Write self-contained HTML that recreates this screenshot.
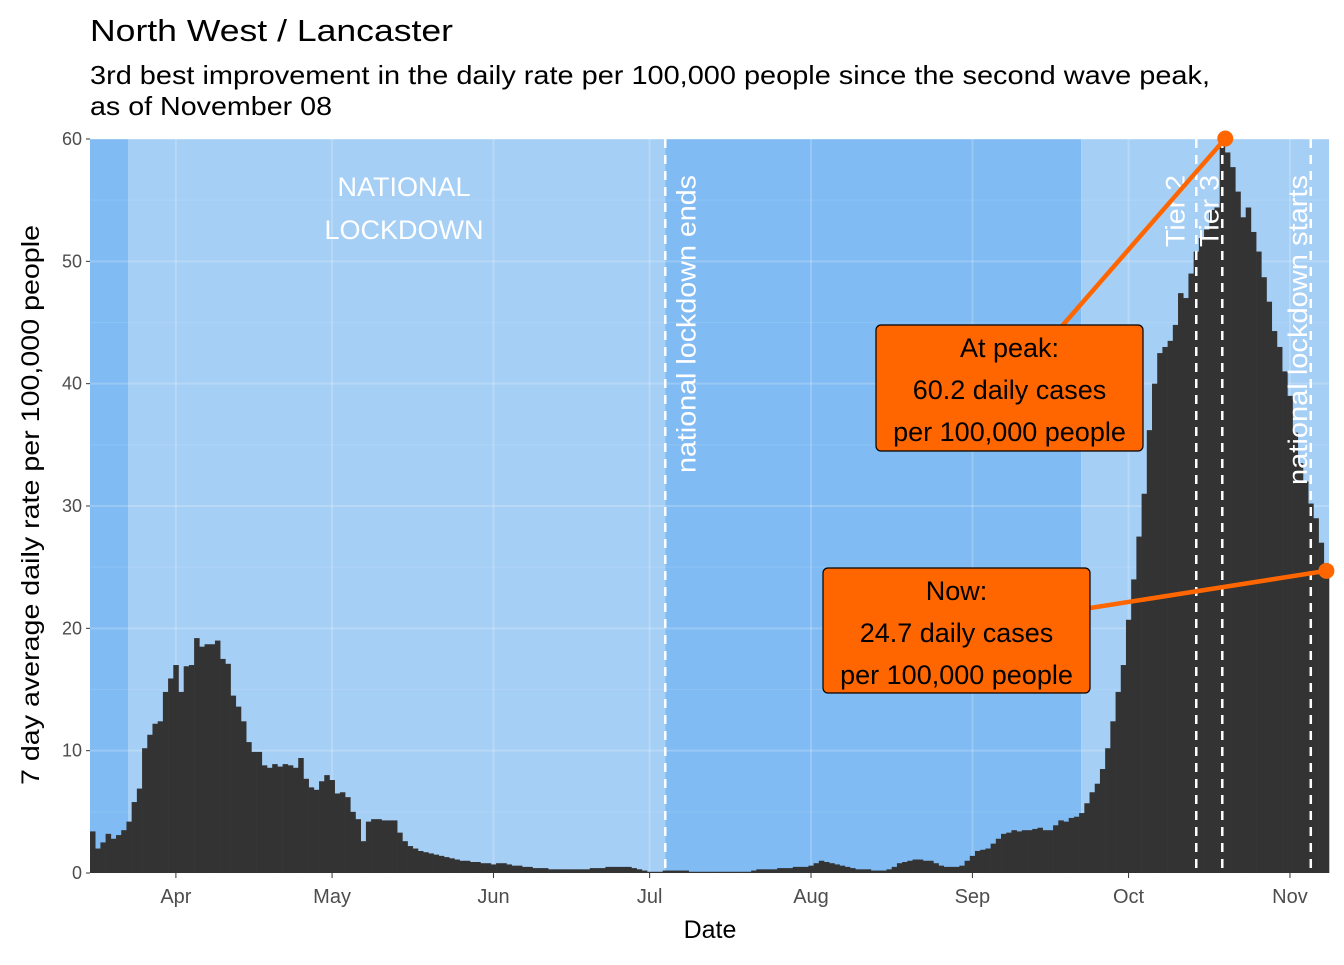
<!DOCTYPE html>
<html><head><meta charset="utf-8"><style>
body{margin:0;background:#fff;font-family:"Liberation Sans",sans-serif}
</style></head><body>
<svg id="chart" width="1344" height="960" xmlns="http://www.w3.org/2000/svg" font-family="Liberation Sans, sans-serif">
<text x="90" y="41" font-size="31" textLength="363" lengthAdjust="spacingAndGlyphs">North West / Lancaster</text>
<text x="90" y="84" font-size="26" textLength="1120" lengthAdjust="spacingAndGlyphs">3rd best improvement in the daily rate per 100,000 people since the second wave peak,</text>
<text x="90" y="115" font-size="26" textLength="242" lengthAdjust="spacingAndGlyphs">as of November 08</text>
<g id="plot"></g>
<text transform="translate(39,505) rotate(-90)" text-anchor="middle" font-size="25" textLength="560" lengthAdjust="spacingAndGlyphs">7 day average daily rate per 100,000 people</text>
<text x="710" y="938" text-anchor="middle" font-size="25">Date</text>
</svg>
<script>
const yTicks=[0,10,20,30,40,50,60];
const monthLabels=["Apr","May","Jun","Jul","Aug","Sep","Oct","Nov"];
const monthIdx=[16,46,77,107,138,169,199,230];
const values=[3.4,2.0,2.5,3.2,2.8,3.1,3.5,4.2,5.8,6.9,10.2,11.3,12.2,12.4,14.8,15.9,
17.0,14.8,16.9,17.0,19.2,18.5,18.7,18.7,19.0,17.5,17.1,14.5,13.6,12.4,10.7,9.9,9.9,8.8,8.6,8.9,8.7,8.9,8.8,8.6,9.4,7.7,7.0,6.8,7.5,8.0,
7.6,6.5,6.6,6.2,5.0,4.4,2.6,4.2,4.4,4.4,4.3,4.3,4.3,3.3,2.6,2.2,2.0,1.8,1.7,1.6,1.5,1.4,1.3,1.2,1.1,1.0,1.0,0.9,0.9,0.8,0.8,
0.7,0.8,0.8,0.7,0.6,0.6,0.5,0.5,0.4,0.4,0.4,0.3,0.3,0.3,0.3,0.3,0.3,0.3,0.3,0.4,0.4,0.4,0.5,0.5,0.5,0.5,0.5,0.4,0.3,0.2,
0.1,0.1,0.1,0.2,0.2,0.2,0.2,0.2,0.1,0.1,0.1,0.1,0.1,0.1,0.1,0.1,0.1,0.1,0.1,0.1,0.2,0.3,0.3,0.3,0.3,0.4,0.4,0.4,0.5,0.5,0.5,
0.6,0.8,1.0,0.9,0.8,0.7,0.6,0.5,0.4,0.3,0.3,0.3,0.2,0.2,0.2,0.3,0.5,0.8,0.9,1.0,1.1,1.1,1.0,1.0,0.8,0.6,0.5,0.5,0.5,0.6,1.0,
1.4,1.8,1.9,2.0,2.4,2.8,3.2,3.3,3.5,3.4,3.5,3.5,3.6,3.7,3.5,3.5,3.9,4.3,4.2,4.5,4.6,4.9,5.7,6.6,7.3,8.5,10.2,12.4,14.8,17.0,
20.7,24.0,27.5,31.0,36.2,40.0,42.5,43.0,43.5,44.8,47.4,47.0,49.0,50.8,51.9,52.6,54.2,54.4,60.2,58.9,57.7,55.7,53.6,54.4,52.4,50.8,48.7,46.7,44.3,43.0,41.0,
39.0,36.0,33.5,32.0,30.2,29.0,27.0,24.7];
const bands=[[0,7.3,"#80bbf3"],[7.3,110.5,"#a6cff6"],[110.5,190.4,"#80bbf3"],[190.4,238,"#a6cff6"]];
const events=[{i:110,label:"national lockdown ends",dx:30,len:298},{i:212,label:"Tier 2",dx:-12,len:72},{i:217,label:"Tier 3",dx:-4,len:72},{i:234,label:"national lockdown starts",dx:-4,len:310}];
const peakIdx=217, peakVal=60.2, nowIdx=237, nowVal=24.7;

const X0=90,X1=1329,Y0=873,Y60=139,N=values.length,bw=(X1-X0)/N;
const xs=i=>X0+i*bw, xc=i=>X0+(i+0.5)*bw, y=v=>Y0-(Y0-Y60)*v/60;
const NS="http://www.w3.org/2000/svg",g=document.getElementById('plot');
function mk(t,a,p){const e=document.createElementNS(NS,t);for(const k in a)e.setAttribute(k,a[k]);(p||g).appendChild(e);return e;}
bands.forEach(b=>{const r=mk('rect',{x:xs(b[0]),y:Y60,width:xs(b[1])-xs(b[0]),height:Y0-Y60,fill:b[2]});

});
for(let v=5;v<=60;v+=10){mk('line',{x1:X0,x2:X1,y1:y(v),y2:y(v),stroke:"#fff","stroke-opacity":0.1,"stroke-width":1});}
yTicks.forEach(v=>{const l=mk('line',{x1:X0,x2:X1,y1:y(v),y2:y(v),stroke:"#fff","stroke-opacity":0.2,"stroke-width":2});


mk('line',{x1:X0-4,x2:X0,y1:y(v),y2:y(v),stroke:"#333"});
const t=mk('text',{x:X0-8,y:y(v)+6,"text-anchor":"end","font-size":18,fill:"#4d4d4d"});t.textContent=v;

});
monthIdx.forEach((m,k)=>{const x=xc(m);
mk('line',{x1:x,x2:x,y1:Y60,y2:Y0,stroke:"#fff","stroke-opacity":0.2,"stroke-width":2});
mk('line',{x1:x,x2:x,y1:Y0,y2:Y0+5,stroke:"#333"});
const t=mk('text',{x:x,y:Y0+30,"text-anchor":"middle","font-size":20,fill:"#4d4d4d"});t.textContent=monthLabels[k];

});
values.forEach((v,i)=>{const r=mk('rect',{x:xs(i),y:y(v),width:bw+0.3,height:Y0-y(v),fill:"#333333"});

});
let t=mk('text',{x:404,y:196,"text-anchor":"middle","font-size":27,fill:"#fff"});t.textContent="NATIONAL";


t=mk('text',{x:404,y:239,"text-anchor":"middle","font-size":27,fill:"#fff"});t.textContent="LOCKDOWN";


events.forEach(e=>{const x=xc(e.i);
const l=mk('line',{x1:x,x2:x,y1:Y60,y2:Y0,stroke:"#fff","stroke-width":2.5,"stroke-dasharray":"9,7"});


const tt=mk('text',{transform:`translate(${x+e.dx},175) rotate(-90)`,"text-anchor":"end","font-size":27,fill:"#fff",textLength:e.len,lengthAdjust:"spacingAndGlyphs"});tt.textContent=e.label;

});
function callout(px,py,bx,by,bw2,bh,lx,ly,lines,name){
mk('line',{x1:px,y1:py,x2:lx,y2:ly,stroke:"#ff6600","stroke-width":4.5});
mk('circle',{cx:px,cy:py,r:8,fill:"#ff6600"});
const r=mk('rect',{x:bx,y:by,width:bw2,height:bh,rx:5,fill:"#ff6600",stroke:"#000","stroke-width":1.2});


lines.forEach((s,k)=>{const tx=mk('text',{x:bx+bw2/2,y:by+32+k*42,"text-anchor":"middle","font-size":27,fill:"#000"});tx.textContent=s;});}
callout(xc(peakIdx)+3,y(peakVal)+2,876,325,267,126,1062,326,["At peak:","60.2 daily cases","per 100,000 people"],'peak-callout');
callout(xc(nowIdx),y(nowVal),823,568,267,125,1090,608,["Now:","24.7 daily cases","per 100,000 people"],'now-callout');
</script>
</body></html>
